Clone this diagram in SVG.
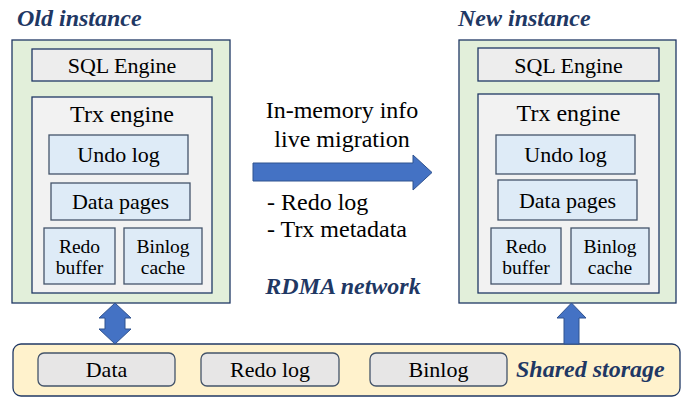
<svg xmlns="http://www.w3.org/2000/svg" width="684" height="400" viewBox="0 0 684 400">
<rect width="684" height="400" fill="#ffffff"/>
<g id="title-old"><text x="17" y="26" font-family="Times New Roman" font-weight="bold" font-style="italic" fill="#1f3864" font-size="24">Old instance</text></g>
<g id="title-new"><text x="458" y="26" font-family="Times New Roman" font-weight="bold" font-style="italic" fill="#1f3864" font-size="24">New instance</text></g>

<g id="old-instance" stroke-width="1.3">
<rect x="12" y="40" width="218" height="263" fill="#e2efda" stroke="#203864"/>
<g id="old-sql"><rect x="32" y="49" width="180" height="32" fill="#ededed" stroke="#203864"/><text x="122" y="73" text-anchor="middle" font-family="Times New Roman" font-size="22">SQL Engine</text></g>
<g id="old-trx"><rect x="32" y="97" width="180" height="196" fill="#f2f2f2" stroke="#203864"/><text x="122" y="122" text-anchor="middle" font-family="Times New Roman" font-size="24">Trx engine</text></g>
<g id="old-undo"><rect x="49" y="135" width="139" height="39" fill="#deebf7" stroke="#44546a"/><text x="118.5" y="162" text-anchor="middle" font-family="Times New Roman" font-size="22">Undo log</text></g>
<g id="old-data"><rect x="51" y="183" width="139" height="37" fill="#deebf7" stroke="#44546a"/><text x="120.5" y="209" text-anchor="middle" font-family="Times New Roman" font-size="22">Data pages</text></g>
<g id="old-redo"><rect x="44" y="228" width="71" height="56" fill="#deebf7" stroke="#44546a"/><text x="79.5" y="253" text-anchor="middle" font-family="Times New Roman" font-size="19.5">Redo</text><text x="79.5" y="274" text-anchor="middle" font-family="Times New Roman" font-size="19.5">buffer</text></g>
<g id="old-binlog"><rect x="124" y="228" width="78" height="56" fill="#deebf7" stroke="#44546a"/><text x="163" y="253" text-anchor="middle" font-family="Times New Roman" font-size="19.5">Binlog</text><text x="163" y="274" text-anchor="middle" font-family="Times New Roman" font-size="19.5">cache</text></g>
</g>

<g id="new-instance" stroke-width="1.3">
<rect x="459" y="40" width="217" height="263" fill="#e2efda" stroke="#203864"/>
<g id="new-sql"><rect x="478" y="48" width="181" height="33" fill="#ededed" stroke="#203864"/><text x="568.5" y="73" text-anchor="middle" font-family="Times New Roman" font-size="22">SQL Engine</text></g>
<g id="new-trx"><rect x="478" y="94" width="181" height="199" fill="#f2f2f2" stroke="#203864"/><text x="568.5" y="121" text-anchor="middle" font-family="Times New Roman" font-size="24">Trx engine</text></g>
<g id="new-undo"><rect x="496" y="135" width="139" height="39" fill="#deebf7" stroke="#44546a"/><text x="565.5" y="162" text-anchor="middle" font-family="Times New Roman" font-size="22">Undo log</text></g>
<g id="new-data"><rect x="498" y="180" width="139" height="40" fill="#deebf7" stroke="#44546a"/><text x="567.5" y="208" text-anchor="middle" font-family="Times New Roman" font-size="22">Data pages</text></g>
<g id="new-redo"><rect x="491" y="228" width="70" height="56" fill="#deebf7" stroke="#44546a"/><text x="526" y="253" text-anchor="middle" font-family="Times New Roman" font-size="19.5">Redo</text><text x="526" y="274" text-anchor="middle" font-family="Times New Roman" font-size="19.5">buffer</text></g>
<g id="new-binlog"><rect x="571" y="228" width="78" height="56" fill="#deebf7" stroke="#44546a"/><text x="610" y="253" text-anchor="middle" font-family="Times New Roman" font-size="19.5">Binlog</text><text x="610" y="274" text-anchor="middle" font-family="Times New Roman" font-size="19.5">cache</text></g>
</g>

<g id="migration-label">
<text x="342" y="118" text-anchor="middle" font-family="Times New Roman" font-size="24">In-memory info</text>
<text x="342" y="147" text-anchor="middle" font-family="Times New Roman" font-size="24">live migration</text>
<text x="267" y="210" font-family="Times New Roman" font-size="24">- Redo log</text>
<text x="267" y="237" font-family="Times New Roman" font-size="24">- Trx metadata</text>
<text x="343" y="294" text-anchor="middle" font-family="Times New Roman" font-size="24" font-weight="bold" font-style="italic" fill="#1f3864">RDMA network</text>
</g>

<g id="shared-storage" stroke-width="1.3">
<rect x="13" y="344" width="667" height="52" rx="8" fill="#fff2cc" stroke="#203864"/>
<g id="st-data"><rect x="38" y="353" width="137" height="33" rx="6" fill="#e7e6e6" stroke="#44546a"/><text x="106.5" y="377" text-anchor="middle" font-family="Times New Roman" font-size="22">Data</text></g>
<g id="st-redo"><rect x="201" y="353" width="138" height="33" rx="6" fill="#e7e6e6" stroke="#44546a"/><text x="270" y="377" text-anchor="middle" font-family="Times New Roman" font-size="22">Redo log</text></g>
<g id="st-binlog"><rect x="370" y="353" width="137" height="33" rx="6" fill="#e7e6e6" stroke="#44546a"/><text x="438.5" y="377" text-anchor="middle" font-family="Times New Roman" font-size="22">Binlog</text></g>
<text x="516" y="377" font-family="Times New Roman" font-size="24" font-weight="bold" font-style="italic" fill="#1f3864">Shared storage</text>
</g>

<g id="connectors" fill="#4472c4" stroke="#2f528f" stroke-width="1">
<path d="M253,163 H413 V155 L432,172.5 L413,190 V181 H253 Z"/>
<path d="M115,303 L131,318 H125 V329 H131 L115,344 L99,329 H105 V318 H99 Z"/>
<path d="M571.5,303 L586,318 H579 V344 H564 V318 H557 Z"/>
</g>
</svg>
